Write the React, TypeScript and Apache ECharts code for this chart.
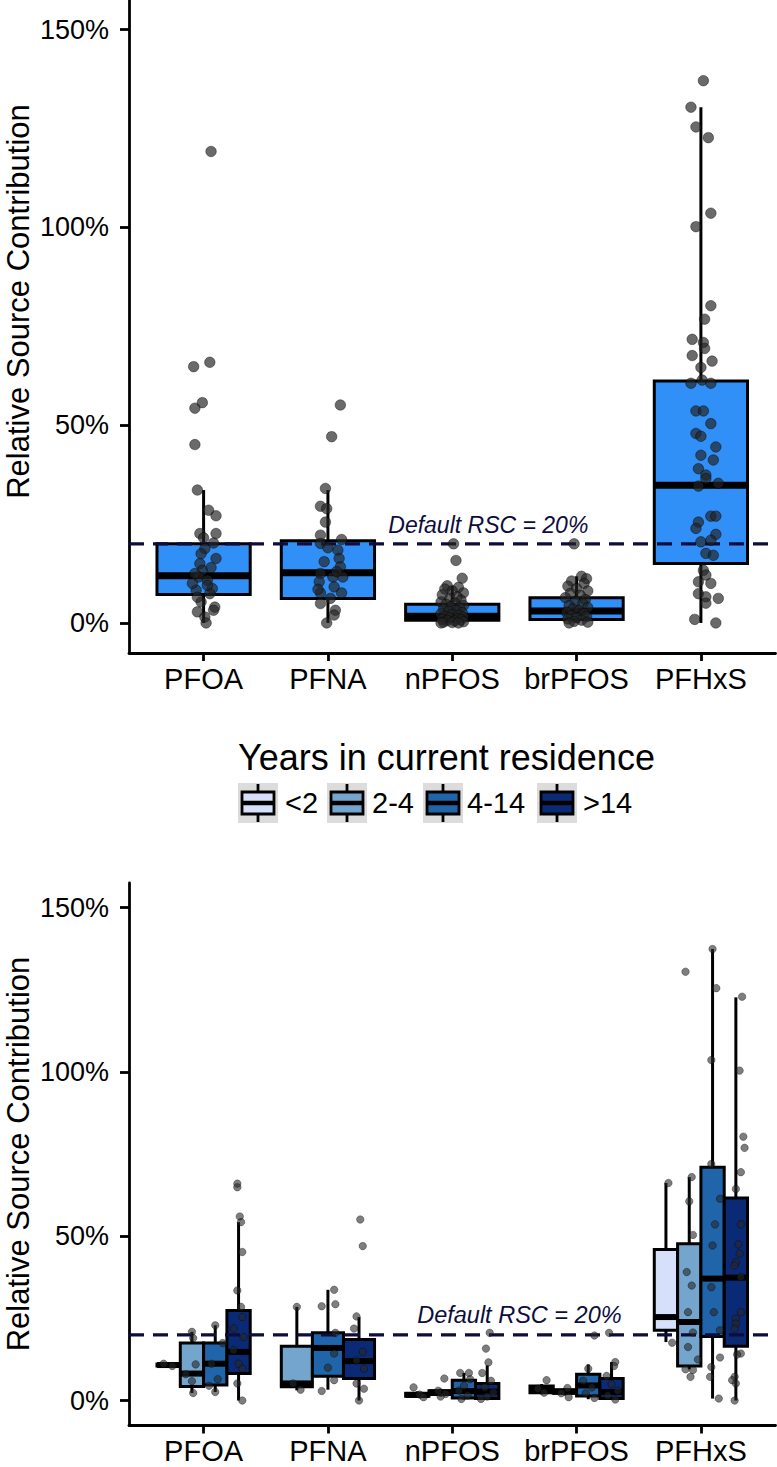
import React, { useEffect, useRef } from 'react';
import * as echarts from 'echarts';

const FONT = '"Liberation Sans", Arial, Helvetica, sans-serif';

const categories = ['PFOA', 'PFNA', 'nPFOS', 'brPFOS', 'PFHxS'];
const yTicks = [0, 50, 100, 150];
const Y_MIN = -7.6;
const Y_MAX = 157.5;
const RSC = 20;
const rscText = 'Default RSC = 20%';
const rscLabelTop = [2.29, 24.7];
const rscLabelBottom = [2.54, 25.9];

// top panel: box stats [lowWhisker, Q1, median, Q3, highWhisker]
const topBoxStats = [
  [0, 7.2, 11.9, 20.0, 33.6],
  [0, 6.2, 12.7, 20.8, 33.6],
  [0, 0.7, 1.7, 4.7, 9.4],
  [0, 0.9, 3.0, 6.4, 11.8],
  [0, 15.0, 34.8, 61.2, 130.4],
];

// top panel points [jitter, value]
const topPFOA = [[0.06,119.2],[-0.08,64.8],[0.05,65.9],[-0.07,54.3],[-0.01,55.7],[-0.07,45.1],[-0.05,33.6],[0.04,28.5],[0.1,27.1],[-0.03,22.6],[0.1,22.6],[0.01,18.8],[0.08,20.2],[0.1,16.3],[-0.03,15.0],[-0.01,13.3],[-0.04,11.6],[0.03,10.8],[0.07,8.7],[-0.06,8.3],[0.05,7.4],[-0.02,5.3],[0.09,4.0],[-0.05,2.8],[0.01,1.5],[0.02,0],[-0.02,17.5],[0.06,14.0],[-0.07,12.5],[0.03,9.5],[-0.05,6.5],[0.08,3.2],[0.0,21.5],[-0.09,10.0]];
const topPFNA = [[0.1,55.1],[0.03,47.1],[-0.02,34.0],[-0.06,29.5],[-0.01,28.9],[-0.02,25.5],[-0.06,22.2],[0.11,21.1],[-0.06,20.1],[0.08,18.4],[0.09,16.3],[0.1,14.2],[-0.06,12.5],[0.04,11.6],[0.12,11.6],[-0.07,10.4],[0.05,9.1],[0.11,7.6],[-0.06,7.6],[0.02,6.2],[-0.06,4.9],[0.06,3.2],[-0.01,0],[-0.03,15.5],[0.07,13.0],[0.0,19.0],[-0.08,8.5],[0.05,2.0]];
const topNPFOS = [[0.01,20],[0.03,15.8],[0.08,11.3],[-0.04,9.4],[0.05,9],[-0.06,8.6],[0.0,8.1],[0.09,7.6],[-0.08,7.1],[0.04,6.6],[-0.02,6.2],[0.07,5.8],[-0.09,5.3],[0.02,5.0],[-0.05,4.7],[0.09,4.4],[-0.01,4.1],[0.06,3.8],[-0.07,3.5],[0.03,3.2],[-0.03,2.9],[0.08,2.6],[-0.09,2.3],[0.0,2.1],[0.05,1.9],[-0.06,1.7],[0.09,1.5],[-0.02,1.3],[0.04,1.1],[-0.08,0.9],[0.07,0.8],[-0.04,0.6],[0.02,0.5],[0.09,0.3],[-0.07,0.2],[0.0,0.1],[0.05,0],[-0.09,0]];
const topBrPFOS = [[-0.02,20],[0.04,11.8],[0.08,11.2],[-0.04,10.6],[0.06,10],[-0.07,9.3],[0.0,8.7],[0.09,8.1],[-0.05,7.5],[0.03,7.0],[-0.09,6.4],[0.07,5.9],[-0.01,5.4],[0.05,4.9],[-0.06,4.4],[0.09,3.9],[-0.03,3.5],[0.02,3.1],[-0.08,2.7],[0.06,2.3],[-0.04,1.9],[0.08,1.6],[0.0,1.3],[-0.07,1.0],[0.04,0.7],[-0.02,0.4],[0.09,0.2],[-0.06,0]];
const topPFHxS = [[0.02,137.1],[-0.08,130.4],[-0.04,125.4],[0.06,122.7],[0.08,103.6],[-0.04,100.2],[0.08,80.2],[0.03,76.8],[-0.07,71.7],[0.02,70.9],[0.03,69.4],[-0.07,67.6],[0.09,66.2],[0.0,64.6],[-0.08,60.6],[0.01,61.4],[0.08,60.6],[-0.04,53.6],[0.02,53.6],[0.08,50.4],[-0.04,47.9],[0.0,47.2],[0.12,44.5],[0.0,42.4],[0.1,41.2],[-0.02,39.0],[0.04,37.4],[0.04,36.5],[-0.02,34.6],[0.14,35.3],[0.08,27.0],[0.12,27.0],[-0.02,25.5],[-0.04,23.9],[0.12,22.4],[0.0,20.5],[0.08,20.9],[0.04,17.6],[0.1,17.1],[0.02,13.3],[0.04,12.1],[-0.02,10.4],[0.08,10.0],[-0.02,7.4],[0.04,6.6],[0.14,6.2],[0.04,5.0],[-0.05,0.9],[0.12,0]];
const topPoints = [topPFOA, topPFNA, topNPFOS, topBrPFOS, topPFHxS];

// bottom panel: groups
const groupNames = ['<2', '2-4', '4-14', '>14'];
const groupColors = ['#D6E0FA', '#74A5CC', '#2064A9', '#0B2A76'];
const boxLt2 = [[10.4,10.5,10.8,11.1,11.2], null, [0.9,1.3,1.7,2.2,2.8], [1.9,2.4,3.3,4.4,5.0], [17.8,21.4,25.4,46.0,66.2]];
const box2to4 = [[2.3,4.3,8.2,17.5,20.9], [3.1,4.2,5.2,16.5,28.5], [1.2,1.8,2.5,3.0,3.6], [1.5,2.2,2.7,3.3,3.8], [9.5,10.5,23.9,47.7,68.0]];
const box4to14 = [[2.6,4.7,11.2,17.5,22.9], [3.3,7.4,16.0,20.6,33.7], [0.3,0.8,2.9,6.2,8.4], [0.4,1.4,4.6,8.0,11.0], [0.6,19.5,37.1,71.0,137.4]];
const boxGt14 = [[0,8.2,14.8,27.4,54.3], [0,6.7,12.0,18.6,25.4], [0.3,0.6,2.7,5.2,10.7], [0.2,0.6,2.6,6.7,11.7], [0,16.5,37.4,61.6,122.7]];
const groupBoxes = [boxLt2, box2to4, box4to14, boxGt14];

const ptsLt2 = [
  [[-0.04,11.2],[0.03,10.5]],
  [],
  [[-0.03,4.0],[0.02,1.8],[0.05,1.0]],
  [[0.04,6.2],[-0.03,3.6],[0.02,2.4]],
  [[0.02,66.2],[0.05,17.6]],
];
const pts2to4 = [
  [[0.0,20.9],[0.01,19.0],[0.0,5.9],[0.01,2.3],[-0.05,8.0],[0.03,11.0]],
  [[0.0,28.5],[-0.03,5.2],[0.03,3.3]],
  [[0.03,6.7],[-0.02,3.0],[0.04,2.0],[0.0,1.2]],
  [[0.02,3.8],[-0.03,2.2],[0.03,1.0]],
  [[-0.03,130.5],[0.02,68.0],[0.0,60.6],[0.03,50.4],[-0.02,39.1],[0.02,35.0],[-0.01,26.9],[0.03,20.7],[-0.01,16.3],[0.07,12.5],[-0.03,9.5],[0.01,7.2],[0.03,9.3]],
];
const pts4to14 = [
  [[0.0,22.9],[0.06,17.5],[-0.03,11.2],[0.02,6.5],[0.0,2.6],[-0.05,4.5]],
  [[0.05,33.7],[-0.05,28.7],[0.06,29.3],[0.06,20.6],[0.05,14.3],[0.05,6.2],[-0.05,2.9],[0.0,10.0]],
  [[0.04,8.4],[-0.03,8.4],[0.05,6.5],[0.0,4.5],[-0.04,3.0],[0.03,1.5],[-0.02,0.5]],
  [[0.05,19.8],[0.0,9.7],[-0.04,6.0],[0.03,4.0],[-0.02,2.2],[0.05,0.8]],
  [[0.0,137.4],[0.03,125.5],[-0.01,103.6],[-0.01,72.0],[0.06,61.4],[0.02,53.6],[0.0,47.2],[-0.01,34.5],[0.01,26.9],[0.06,21.4],[0.06,13.1],[-0.01,10.2],[-0.02,7.2],[0.05,0.6]],
];
const ptsGt14 = [
  [[-0.01,66.0],[-0.01,64.9],[0.01,56.0],[0.02,54.3],[0.03,45.2],[-0.01,33.5],[0.02,28.5],[0.03,25.4],[-0.04,21.9],[0.04,19.3],[-0.04,15.3],[0.0,11.2],[0.03,9.7],[-0.01,5.2],[0.03,0]],
  [[0.01,55.1],[0.03,47.0],[-0.02,25.6],[-0.04,21.9],[0.03,14.8],[-0.02,12.2],[0.04,9.7],[-0.02,5.2],[0.04,3.6],[0.0,0]],
  [[0.02,20.6],[-0.01,15.8],[0.01,11.6],[-0.04,8.4],[0.03,6.0],[-0.02,4.0],[0.05,2.5],[0.0,1.2],[-0.05,0.5]],
  [[-0.02,20.6],[0.03,11.7],[0.02,10.5],[-0.04,7.5],[0.0,5.0],[0.05,3.0],[-0.03,1.5],[0.03,0.3]],
  [[0.05,122.9],[0.03,100.4],[0.06,80.3],[0.07,76.9],[0.04,69.5],[0.0,64.4],[0.04,53.6],[0.02,47.5],[0.03,44.7],[0.0,42.1],[-0.01,41.1],[0.04,37.6],[0.04,26.9],[0.0,24.9],[0.0,23.4],[-0.01,21.9],[0.04,14.3],[0.01,14.0],[-0.01,7.2],[-0.03,6.2],[0.0,5.2],[-0.01,0]],
];
const groupPoints = [ptsLt2, pts2to4, pts4to14, ptsGt14];

const TOP_FILL = '#3190F7';
const RSC_COLOR = '#0d0d3d';

function boxRenderer(lineW: number, medW: number) {
  return (params: any, api: any) => {
    const x = api.value(0);
    const lo = api.coord([x, api.value(1)]);
    const q1 = api.coord([x, api.value(2)]);
    const med = api.coord([x, api.value(3)]);
    const q3 = api.coord([x, api.value(4)]);
    const hi = api.coord([x, api.value(5)]);
    const half = api.size([api.value(6), 0])[0] / 2;
    const fill = api.visual('color');
    const cx = med[0];
    const ls = { stroke: '#000', lineWidth: lineW };
    return {
      type: 'group',
      children: [
        { type: 'line', shape: { x1: cx, y1: hi[1], x2: cx, y2: q3[1] }, style: ls },
        { type: 'line', shape: { x1: cx, y1: q1[1], x2: cx, y2: lo[1] }, style: ls },
        { type: 'rect', shape: { x: cx - half, y: q3[1], width: half * 2, height: q1[1] - q3[1] }, style: { fill, stroke: '#000', lineWidth: lineW } },
        { type: 'line', shape: { x1: cx - half, y1: med[1], x2: cx + half, y2: med[1] }, style: { stroke: '#000', lineWidth: medW } },
      ],
    };
  };
}

function textRenderer(fontSize: number) {
  return (params: any, api: any) => {
    const p = api.coord([api.value(0), api.value(1)]);
    return {
      type: 'text',
      x: p[0],
      y: p[1],
      style: { text: rscText, font: `italic ${fontSize}px ${FONT}`, fill: RSC_COLOR, align: 'center', verticalAlign: 'middle' },
    };
  };
}

function buildOption() {
  const xAxes = [0, 1].map((i) => ({
    type: 'value',
    gridIndex: i,
    min: -0.6,
    max: 4.6,
    splitLine: { show: false },
    axisLine: { onZero: false, lineStyle: { color: '#000', width: 2.8 } },
    axisTick: { customValues: [0, 1, 2, 3, 4], length: 8, lineStyle: { color: '#000', width: 2.8 } },
    axisLabel: {
      customValues: [0, 1, 2, 3, 4],
      formatter: (v: number) => categories[Math.round(v)] ?? '',
      fontSize: 29,
      fontFamily: FONT,
      color: '#000',
      margin: 11,
    },
  }));
  const yAxes = [0, 1].map((i) => ({
    type: 'value',
    gridIndex: i,
    min: Y_MIN,
    max: Y_MAX,
    splitLine: { show: false },
    axisLine: { onZero: false, lineStyle: { color: '#000', width: 2.8 } },
    axisTick: { customValues: yTicks, length: 9, lineStyle: { color: '#000', width: 2.8 } },
    axisLabel: {
      customValues: yTicks,
      formatter: (v: number) => `${v}%`,
      fontSize: 27,
      fontFamily: FONT,
      color: '#000',
      margin: 20,
    },
  }));

  const series: any[] = [];

  // top boxes
  series.push({
    type: 'custom',
    xAxisIndex: 0,
    yAxisIndex: 0,
    z: 2,
    itemStyle: { color: TOP_FILL },
    renderItem: boxRenderer(3, 7),
    encode: { x: 0, y: 3 },
    data: topBoxStats.map((s, c) => [c, ...s, 0.75]),
  });
  // top dashed line
  series.push({
    type: 'line',
    xAxisIndex: 0,
    yAxisIndex: 0,
    z: 3,
    showSymbol: false,
    symbol: 'none',
    lineStyle: { color: RSC_COLOR, width: 3.3, type: [15, 9] },
    data: [[-0.6, RSC], [4.6, RSC]],
  });
  // top points
  series.push({
    type: 'scatter',
    xAxisIndex: 0,
    yAxisIndex: 0,
    z: 4,
    symbolSize: 10.5,
    itemStyle: { color: 'rgba(35,35,35,0.85)', borderColor: 'rgba(0,0,0,0.5)', borderWidth: 1 },
    data: topPoints.flatMap((pts, c) => pts.map(([dx, v]) => [c + dx, v])),
  });
  series.push({
    type: 'custom',
    xAxisIndex: 0,
    yAxisIndex: 0,
    z: 5,
    renderItem: textRenderer(23),
    encode: { x: 0, y: 1 },
    data: [rscLabelTop],
  });

  // bottom: layout of dodged boxes
  const centers: (number | null)[][] = groupBoxes.map(() => categories.map(() => null));
  const widths: number[][] = groupBoxes.map(() => categories.map(() => 0));
  categories.forEach((_, c) => {
    const present = groupBoxes.map((g, gi) => (g[c] ? gi : -1)).filter((gi) => gi >= 0);
    const w = 0.75 / present.length;
    present.forEach((gi, j) => {
      centers[gi][c] = c - 0.375 + w * (j + 0.5);
      widths[gi][c] = w;
    });
  });

  groupBoxes.forEach((g, gi) => {
    series.push({
      type: 'custom',
      name: groupNames[gi],
      xAxisIndex: 1,
      yAxisIndex: 1,
      z: 2,
      itemStyle: { color: groupColors[gi] },
      renderItem: boxRenderer(3, 6),
      encode: { x: 0, y: 3 },
      data: g
        .map((s, c) => (s ? [centers[gi][c] as number, ...s, widths[gi][c]] : null))
        .filter((d) => d !== null),
    });
  });
  series.push({
    type: 'line',
    xAxisIndex: 1,
    yAxisIndex: 1,
    z: 3,
    showSymbol: false,
    symbol: 'none',
    lineStyle: { color: RSC_COLOR, width: 3.3, type: [15, 9] },
    data: [[-0.6, RSC], [4.6, RSC]],
  });
  groupPoints.forEach((gp, gi) => {
    series.push({
      type: 'scatter',
      xAxisIndex: 1,
      yAxisIndex: 1,
      z: 4,
      symbolSize: 7.5,
      itemStyle: { color: 'rgba(40,40,40,0.75)', borderColor: 'rgba(0,0,0,0.4)', borderWidth: 1 },
      data: gp.flatMap((pts, c) => {
        const cx = centers[gi][c];
        if (cx === null) return [];
        return pts.map(([dx, v]) => [cx + dx, v]);
      }),
    });
  });
  series.push({
    type: 'custom',
    xAxisIndex: 1,
    yAxisIndex: 1,
    z: 5,
    renderItem: textRenderer(23.5),
    encode: { x: 0, y: 1 },
    data: [rscLabelBottom],
  });

  // legend (drawn as graphic)
  const keyX = [238, 327, 423, 537];
  const labelX = [285, 372, 467, 583];
  const keyTop = 783;
  const keySize = 40;
  const legendChildren: any[] = [
    {
      type: 'text',
      x: 238,
      y: 757,
      style: { text: 'Years in current residence', font: `36px ${FONT}`, fill: '#000', align: 'left', verticalAlign: 'middle' },
    },
  ];
  groupNames.forEach((name, gi) => {
    const kx = keyX[gi];
    const cx = kx + keySize / 2;
    legendChildren.push(
      { type: 'rect', shape: { x: kx, y: keyTop, width: keySize, height: keySize }, style: { fill: '#DCDCDC' } },
      { type: 'line', shape: { x1: cx, y1: keyTop + 1, x2: cx, y2: keyTop + keySize - 1 }, style: { stroke: '#000', lineWidth: 2.8 } },
      { type: 'rect', shape: { x: kx + 4, y: keyTop + 9, width: keySize - 8, height: keySize - 18 }, style: { fill: groupColors[gi], stroke: '#000', lineWidth: 2.8 } },
      { type: 'line', shape: { x1: kx + 4, y1: keyTop + keySize / 2, x2: kx + keySize - 4, y2: keyTop + keySize / 2 }, style: { stroke: '#000', lineWidth: 4.5 } },
      {
        type: 'text',
        x: labelX[gi],
        y: keyTop + keySize / 2,
        style: { text: name, font: `29px ${FONT}`, fill: '#000', align: 'left', verticalAlign: 'middle' },
      }
    );
  });

  const graphic: any[] = [
    {
      type: 'text',
      x: 18,
      y: 301.5,
      rotation: Math.PI / 2,
      style: { text: 'Relative Source Contribution', font: `31px ${FONT}`, fill: '#000', align: 'center', verticalAlign: 'middle' },
    },
    {
      type: 'text',
      x: 18,
      y: 1154,
      rotation: Math.PI / 2,
      style: { text: 'Relative Source Contribution', font: `31px ${FONT}`, fill: '#000', align: 'center', verticalAlign: 'middle' },
    },
    { type: 'group', children: legendChildren },
  ];

  return {
    animation: false,
    backgroundColor: '#fff',
    grid: [
      { left: 129, top: 0, width: 646.5, height: 653 },
      { left: 129, top: 883, width: 646.5, height: 542.5 },
    ],
    xAxis: xAxes,
    yAxis: yAxes,
    series,
    graphic,
  };
}

export default function App() {
  const ref = useRef<HTMLDivElement>(null);
  useEffect(() => {
    document.body.style.margin = '0';
    const chart = echarts.init(ref.current as HTMLDivElement, null, { renderer: 'svg' });
    chart.setOption(buildOption() as any);
    return () => chart.dispose();
  }, []);
  return <div ref={ref} style={{ position: 'absolute', left: 0, top: 0, width: 777, height: 1467 }} />;
}
